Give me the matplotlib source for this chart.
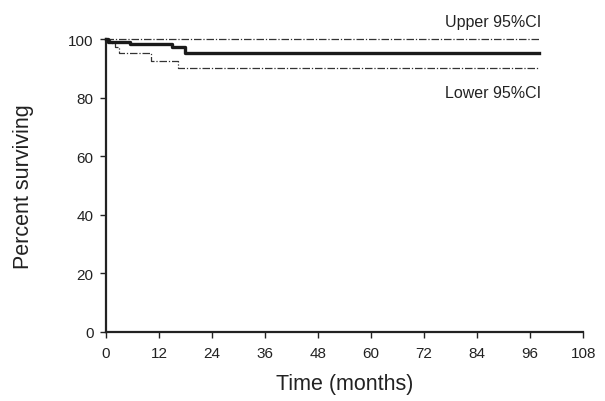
import matplotlib.pyplot as plt

plt.rcParams['font.family'] = ['Liberation Sans', 'DejaVu Sans']

# Kaplan-Meier estimate (step function)
km_time = [0, 0.5, 5.4, 15, 17.8, 98]
km_surv = [100, 99.2, 98.3, 97.2, 95.2, 95.2]

# 95% confidence limits
upper_time = [0, 98]
upper_surv = [100, 100]
lower_time = [0, 1, 2, 3, 10.3, 16.3, 98]
lower_surv = [100, 98.6, 97.2, 95.4, 92.6, 90, 90]

x_ticks = [0, 12, 24, 36, 48, 60, 72, 84, 96, 108]
y_ticks = [0, 20, 40, 60, 80, 100]

fig = plt.figure(figsize=(6.05, 4.02), dpi=100)
ax = fig.add_axes([0.175, 0.172, 0.789, 0.728])

ax.step(km_time, km_surv, where='post', color='#1a1a1a', linewidth=2.4,
        clip_on=False, zorder=3)
ax.step(upper_time, upper_surv, where='post', color='#333333', linewidth=0.9,
        linestyle=(0, (6, 1.5, 1, 1.5)), clip_on=False)
ax.step(lower_time, lower_surv, where='post', color='#333333', linewidth=0.9,
        linestyle=(0, (6, 1.5, 1, 1.5)), clip_on=False)

ax.text(98.5, 103.5, 'Upper 95%CI', ha='right', va='bottom', fontsize=11.5, color='#222222')
ax.text(98.5, 84.5, 'Lower 95%CI', ha='right', va='top', fontsize=11.5, color='#222222')

ax.set_xlim(0, 108)
ax.set_ylim(0, 100)
ax.set_xticks(x_ticks)
ax.set_yticks(y_ticks)
ax.tick_params(labelsize=11, colors='#222222', width=1, length=4)
ax.tick_params(axis='x', pad=6)
ax.tick_params(axis='y', pad=5)
ax.spines['top'].set_visible(False)
ax.spines['right'].set_visible(False)
ax.spines['left'].set_linewidth(1.6)
ax.spines['bottom'].set_linewidth(1.6)
ax.spines['left'].set_color('#222222')
ax.spines['bottom'].set_color('#222222')

ax.set_xlabel('Time (months)', fontsize=15.5, color='#222222')
ax.set_ylabel('Percent surviving', fontsize=15.5, color='#222222')
ax.xaxis.set_label_coords(0.5, -0.14)
ax.yaxis.set_label_coords(-0.151, 0.5)

plt.savefig('out.png', dpi=100)
